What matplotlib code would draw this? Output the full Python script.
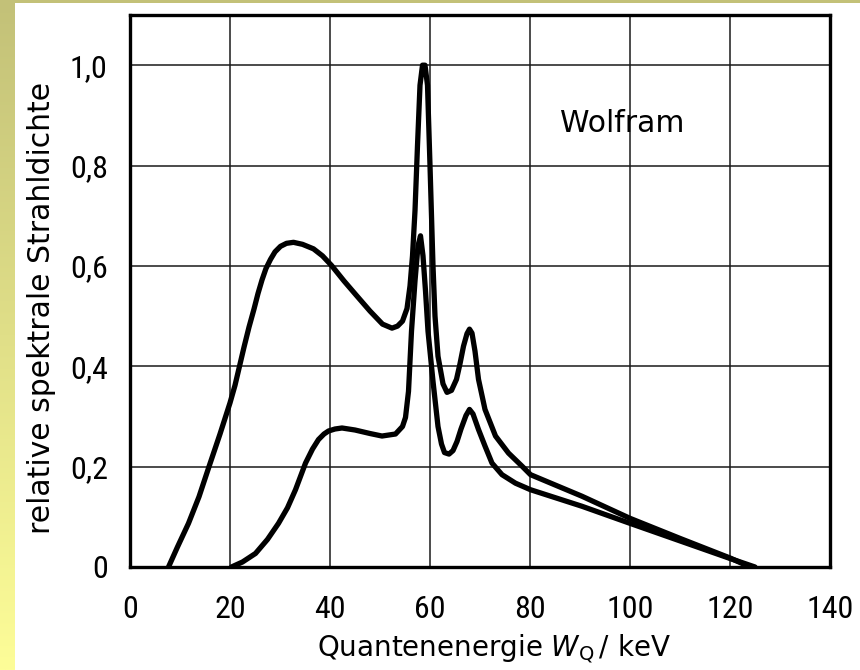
import matplotlib
matplotlib.use("Agg")
import matplotlib.pyplot as plt
import numpy as np
from matplotlib.patches import Rectangle
from matplotlib import font_manager

installed = {f.name for f in font_manager.fontManager.ttflist}
label_family = ['DejaVu Sans']
tick_family = (['Roboto Condensed', 'Roboto', 'DejaVu Sans']
               if 'Roboto Condensed' in installed else ['Roboto', 'DejaVu Sans'])

plt.rcParams['font.family'] = label_family
plt.rcParams['mathtext.fontset'] = 'dejavusans'

# Spectrum of a tungsten anode: upper curve (unfiltered), lower curve (filtered)
energy_upper = [7.7, 9.5, 11.7, 13.8, 15.8, 18.0, 20.0, 21.0, 21.9, 22.8, 23.8,
                24.8, 25.6, 26.4, 27.2, 28.1, 29.0, 30.1, 31.3, 32.7, 34.5,
                36.7, 38.5, 40.3, 42.8, 45.3, 48.0, 50.5, 52.4, 53.5, 54.5,
                55.4, 56.0, 56.5, 57.0, 57.5, 58.0, 58.5, 59.0, 59.5, 60.0,
                60.6, 61.0, 61.6, 62.6, 63.4, 64.3, 65.3, 66.0, 66.7, 67.4,
                67.9, 68.4, 69.0, 69.7, 71.0, 73.1, 75.7, 78.4, 80.1, 90.4,
                100.0, 110.0, 120.0, 124.0]
value_upper = [0.0, 0.04, 0.087, 0.14, 0.20, 0.265, 0.327, 0.362, 0.40, 0.438,
               0.478, 0.514, 0.545, 0.572, 0.595, 0.613, 0.628, 0.639, 0.645,
               0.647, 0.643, 0.634, 0.620, 0.601, 0.570, 0.541, 0.510, 0.484,
               0.476, 0.480, 0.490, 0.515, 0.560, 0.620, 0.710, 0.840, 0.960,
               1.0, 1.0, 0.96, 0.80, 0.60, 0.50, 0.42, 0.365, 0.348, 0.352,
               0.374, 0.405, 0.44, 0.465, 0.474, 0.466, 0.43, 0.374, 0.314,
               0.261, 0.227, 0.201, 0.184, 0.141, 0.097, 0.057, 0.018, 0.0]

energy_lower = [20.3, 22.5, 25.1, 27.5, 29.7, 31.5, 33.1, 35.1, 36.5, 37.7,
                38.8, 39.7, 41.0, 42.4, 45.0, 48.0, 50.4, 53.1, 54.5, 55.1,
                55.7, 56.3, 57.0, 57.6, 58.1, 58.6, 59.1, 59.6, 60.6, 61.6,
                62.3, 62.9, 63.8, 64.6, 65.4, 66.2, 67.2, 67.9, 68.6, 69.7,
                71.0, 72.4, 74.4, 77.1, 80.1, 90.4, 100.0, 110.0, 120.0,
                125.0]
value_lower = [0.0, 0.01, 0.027, 0.055, 0.087, 0.118, 0.154, 0.207, 0.235,
               0.254, 0.265, 0.271, 0.275, 0.277, 0.273, 0.266, 0.261, 0.265,
               0.28, 0.298, 0.35, 0.47, 0.57, 0.64, 0.66, 0.62, 0.55, 0.47,
               0.37, 0.28, 0.245, 0.228, 0.225, 0.232, 0.25, 0.275, 0.302,
               0.314, 0.305, 0.274, 0.241, 0.207, 0.184, 0.167, 0.154, 0.121,
               0.087, 0.052, 0.017, 0.0]

x_ticks = [0, 20, 40, 60, 80, 100, 120, 140]
y_ticks = [0, 0.2, 0.4, 0.6, 0.8, 1.0]
y_tick_labels = ['0', '0,2', '0,4', '0,6', '0,8', '1,0']

fig = plt.figure(figsize=(8.6, 6.7), dpi=100)
fig.patch.set_facecolor('white')

# yellow border strips
strip = fig.add_axes([0, 0, 15 / 860, 1])
grad = np.linspace(0, 1, 256).reshape(-1, 1)
top_c = np.array([195, 193, 120]) / 255
bot_c = np.array([253, 253, 152]) / 255
img = (top_c[None, None, :] * (1 - grad[..., None]) + bot_c[None, None, :] * grad[..., None])
strip.imshow(img, aspect='auto', extent=[0, 1, 0, 1], origin='upper')
strip.set_axis_off()
fig.patches.append(Rectangle((0, 1 - 3 / 670), 1, 3 / 670, transform=fig.transFigure,
                             facecolor=top_c, edgecolor='none', zorder=5))

ax = fig.add_axes([130 / 860, 1 - 567 / 670, 700 / 860, 552 / 670])
ax.set_xlim(0, 140)
ax.set_ylim(0, 1.1)

ax.set_xticks(x_ticks)
ax.set_xticklabels([str(v) for v in x_ticks], family=tick_family)
ax.set_yticks(y_ticks)
ax.set_yticklabels(y_tick_labels, family=tick_family)
ax.tick_params(axis='both', length=0, labelsize=23)
ax.tick_params(axis='x', pad=20)
ax.tick_params(axis='y', pad=16)

ax.grid(True, color='#1a1a1a', linewidth=1.1)
ax.set_axisbelow(True)
for sp in ax.spines.values():
    sp.set_linewidth(2.4)
    sp.set_color('black')

ax.plot(energy_upper, value_upper, color='black', linewidth=3.8,
        solid_joinstyle='round', solid_capstyle='round', zorder=3)
ax.plot(energy_lower, value_lower, color='black', linewidth=3.8,
        solid_joinstyle='round', solid_capstyle='round', zorder=3)

ax.text(98.4, 0.884, 'Wolfram', fontsize=21.5, ha='center', va='center')

ax.set_xlabel(r'Quantenenergie $W_\mathrm{Q}\,$/ keV', fontsize=20)
ax.xaxis.set_label_coords(0.52, -0.118)
ax.set_ylabel('relative spektrale Strahldichte', fontsize=21.5)
ax.yaxis.set_label_coords(-0.105, 0.47)

fig.savefig('out.png', dpi=100, facecolor=fig.get_facecolor())
